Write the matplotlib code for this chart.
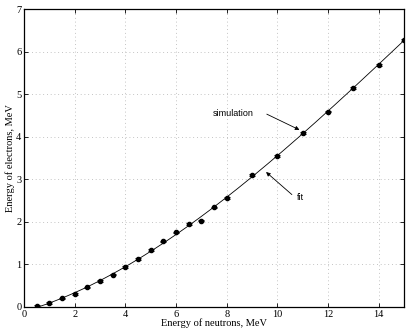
import numpy as np
import matplotlib
matplotlib.use("Agg")
import matplotlib.pyplot as plt

# simulated points (neutron energy, electron energy), MeV
e_neutron = [0.5, 1, 1.5, 2, 2.5, 3, 3.5, 4, 4.5, 5, 5.5, 6, 6.5, 7,
             7.5, 8, 9, 10, 11, 12, 13, 14, 15]
e_electron = [0.02, 0.09, 0.20, 0.31, 0.46, 0.61, 0.76, 0.94, 1.13, 1.33,
              1.54, 1.75, 1.95, 2.03, 2.34, 2.56, 3.10, 3.55, 4.09, 4.59,
              5.14, 5.69, 6.28]
err = [0.02] * len(e_neutron)

plt.rcParams['font.family'] = ['Liberation Serif', 'DejaVu Serif']

fig = plt.figure(figsize=(4.09, 3.34), dpi=100)
ax = fig.add_axes([0.059, 0.081, 0.929, 0.892])

# fit curve through the simulated points
coef = np.polyfit(e_neutron, e_electron, 3)
xf = np.linspace(0.5, 15, 200)
ax.plot(xf, np.polyval(coef, xf), color='black', lw=0.6)

ax.errorbar(e_neutron, e_electron, yerr=err, fmt='o', color='black',
            ms=3, capsize=2.5, elinewidth=0.6, capthick=0.6)

ax.set_xlim(0, 15)
ax.set_ylim(0, 7)
ax.set_xticks(np.arange(0, 15, 2))
ax.set_yticks(np.arange(0, 8, 1))
ax.grid(True, linestyle=(0, (1, 3.5)), color='#b0b0b0', lw=0.6)
ax.tick_params(direction='in', top=True, right=True, labelsize=7.5,
               length=3, width=0.6, pad=2)
for s in ax.spines.values():
    s.set_linewidth(0.9)

ax.set_xlabel('Energy of neutrons, MeV', fontsize=7.5, labelpad=0)
ax.set_ylabel('Energy of electrons, MeV', fontsize=7.5, labelpad=1)

arrow = dict(arrowstyle='-|>', color='black', lw=0.6, mutation_scale=6,
             shrinkA=0, shrinkB=0)
ax.text(7.45, 4.55, 'simulation', fontsize=6.5, family='Liberation Sans',
        va='center')
ax.annotate('', xy=(10.87, 4.16), xytext=(9.58, 4.53), arrowprops=arrow)
ax.text(10.75, 2.58, 'fit', fontsize=6.5, family='Liberation Sans',
        va='center')
ax.annotate('', xy=(9.55, 3.17), xytext=(10.57, 2.64), arrowprops=arrow)

fig.savefig('out.png', dpi=100)
